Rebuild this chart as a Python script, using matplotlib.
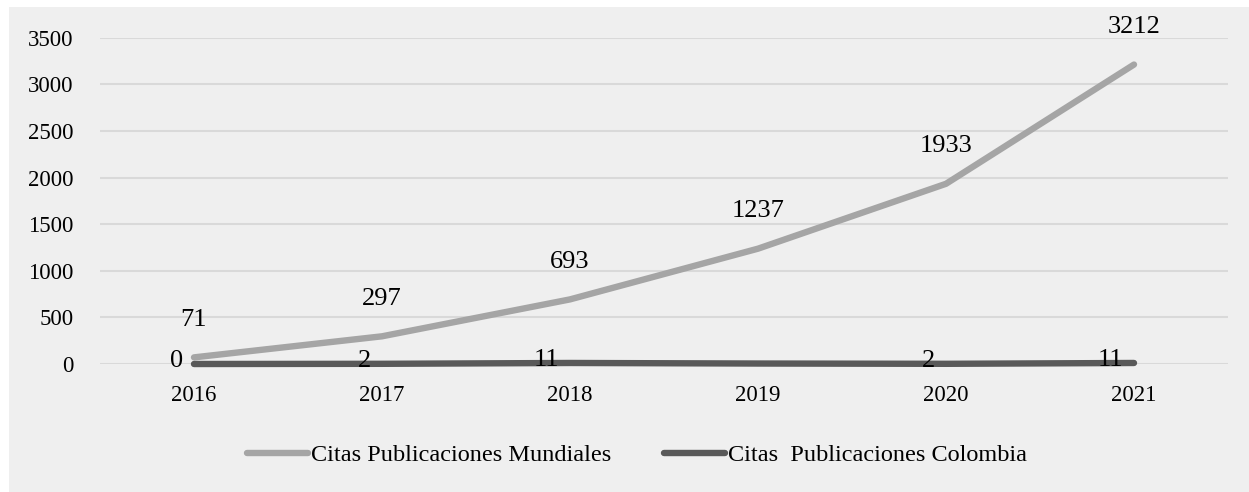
import matplotlib
matplotlib.use("Agg")
import matplotlib.pyplot as plt

years = ["2016", "2017", "2018", "2019", "2020", "2021"]
mundiales = [71, 297, 693, 1237, 1933, 3212]
colombia = [0, 2, 11, 5, 2, 11]
colombia_labels = ["0", "2", "11", None, "2", "11"]
y_ticks = [0, 500, 1000, 1500, 2000, 2500, 3000, 3500]
series_names = ["Citas Publicaciones Mundiales", "Citas  Publicaciones Colombia"]

plt.rcParams["font.family"] = ["Liberation Serif", "DejaVu Serif"]

W, H = 1249, 492
fig = plt.figure(figsize=(W / 100, H / 100), dpi=100)
fig.patch.set_facecolor("white")

# light grey chart area with a thin white margin on the top and left
bg = fig.add_axes([9 / W, 0, 1 - 9 / W, 1 - 7 / H])
bg.set_facecolor("#efefef")
bg.set_xticks([])
bg.set_yticks([])
for s in bg.spines.values():
    s.set_visible(False)
bg.set_zorder(0)

left, right, top, bottom = 100, 1228, 37.7, 364
ax = fig.add_axes([left / W, (H - bottom) / H, (right - left) / W, (bottom - top) / H])
ax.set_zorder(1)
ax.patch.set_alpha(0)

x = list(range(len(years)))
ax.plot(x, mundiales, color="#a5a5a5", lw=4.6, solid_capstyle="round",
        label=series_names[0], zorder=3, clip_on=False)
ax.plot(x, colombia, color="#595959", lw=4.6, solid_capstyle="round",
        label=series_names[1], zorder=4, clip_on=False)

for xi, v in zip(x, mundiales):
    ax.annotate(str(v), (xi, v), xytext=(0, 19), textcoords="offset points",
                ha="center", va="bottom", fontsize=19, color="black", zorder=5)

for xi, v, lab in zip(x, colombia, colombia_labels):
    if lab is None:
        continue
    ax.annotate(lab, (xi, v), xytext=(-8, 2), textcoords="offset points",
                ha="right", va="center", fontsize=19, color="black", zorder=5,
                annotation_clip=False)

ax.set_xlim(-0.5, len(years) - 0.5)
ax.set_ylim(0, 3500)
ax.set_yticks(y_ticks)
ax.set_yticklabels([str(t) for t in y_ticks], fontsize=16.5)
ax.set_xticks(x)
ax.set_xticklabels(years, fontsize=16.5)
ax.tick_params(axis="y", length=0, pad=19)
ax.tick_params(axis="x", length=0, pad=15)
ax.grid(axis="y", color="#d9d9d9", lw=1.5, zorder=1)
ax.set_axisbelow(True)
for s in ax.spines.values():
    s.set_visible(False)

fig.legend(loc="center", bbox_to_anchor=(637 / W, (H - 455) / H), ncol=2,
           frameon=False, fontsize=17.5, handlelength=2.5, handletextpad=0.1,
           columnspacing=2.2)

fig.savefig("out.png", dpi=100, facecolor=fig.get_facecolor())
